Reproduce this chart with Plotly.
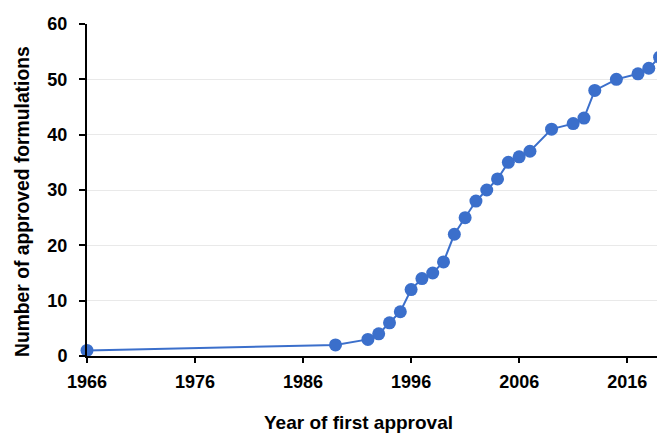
import plotly.graph_objects as go

years = [1966, 1989, 1992, 1993, 1994, 1995, 1996, 1997, 1998, 1999, 2000, 2001, 2002,
         2003, 2004, 2005, 2006, 2007, 2009, 2011, 2012, 2013, 2015, 2017, 2018, 2019]
counts = [1, 2, 3, 4, 6, 8, 12, 14, 15, 17, 22, 25, 28,
          30, 32, 35, 36, 37, 41, 42, 43, 48, 50, 51, 52, 54]

x_ticks = [1966, 1976, 1986, 1996, 2006, 2016]
y_ticks = [0, 10, 20, 30, 40, 50, 60]

FONT = "Arial, Liberation Sans, sans-serif"
BLUE = "#3B6FCB"

fig = go.Figure()
fig.add_trace(go.Scatter(
    x=years, y=counts, mode="lines+markers",
    line=dict(color=BLUE, width=2),
    marker=dict(color=BLUE, size=13, line=dict(width=0)),
    cliponaxis=False, showlegend=False,
))

fig.update_layout(
    width=657, height=425,
    margin=dict(l=79, r=0, t=16, b=77),
    paper_bgcolor="white", plot_bgcolor="white",
    font=dict(family=FONT, color="black"),
    xaxis=dict(
        range=[1966, 2019.5], tickvals=x_ticks,
        ticktext=[str(v) for v in x_ticks],
        showgrid=False, zeroline=False,
        showline=True, linecolor="black", linewidth=2,
        ticks="outside", ticklen=5, tickwidth=1.5, tickcolor="black",
        tickfont=dict(size=18, family=FONT, color="black", weight="bold"),
        ticklabelstandoff=3,
    ),
    yaxis=dict(
        range=[0, 60], tickvals=y_ticks,
        showgrid=True, gridcolor="#e9e9e9", gridwidth=1,
        zeroline=False,
        showline=True, linecolor="black", linewidth=2,
        ticks="outside", ticklen=6, tickwidth=1.5, tickcolor="black",
        tickfont=dict(size=18, family=FONT, color="black", weight="bold"),
        ticklabelstandoff=8,
    ),
    annotations=[
        dict(text="Year of first approval", xref="paper", yref="paper",
             x=(358 - 87) / 578, y=-(422 - 356) / 332, xanchor="center", yanchor="middle",
             showarrow=False, font=dict(size=19, family=FONT, color="black", weight="bold")),
        dict(text="Number of approved formulations", xref="paper", yref="paper",
             x=-(87 - 22) / 578, y=(356 - 202) / 332, xanchor="center", yanchor="middle",
             textangle=-90, showarrow=False,
             font=dict(size=19.3, family=FONT, color="black", weight="bold")),
    ],
)

fig.write_html("out.html")
